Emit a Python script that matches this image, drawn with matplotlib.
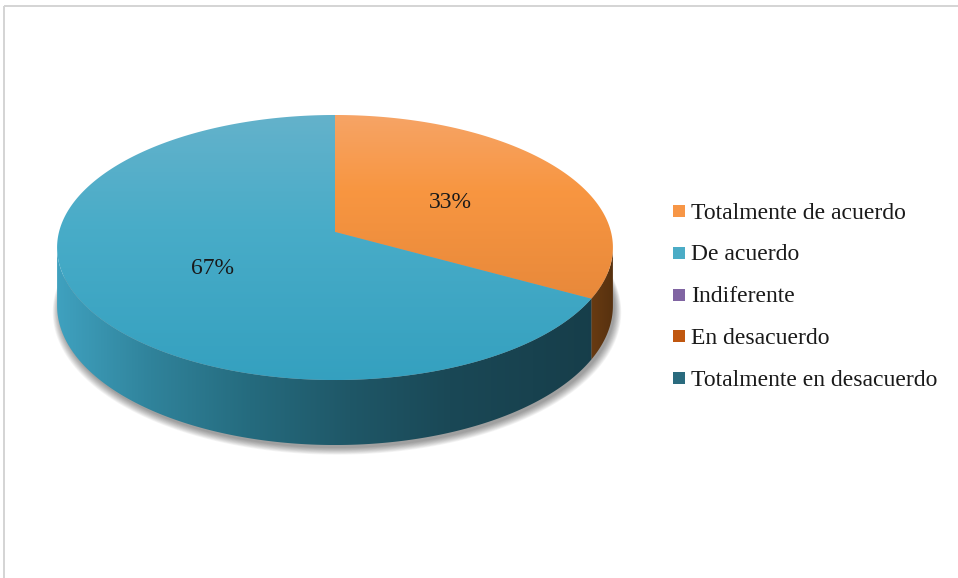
import numpy as np
import matplotlib
matplotlib.use("Agg")
import matplotlib.pyplot as plt
from matplotlib.patches import Polygon, Rectangle
from matplotlib.colors import to_rgb

# ---------------- data ----------------
categories = ["Totalmente de acuerdo", "De acuerdo", "Indiferente",
              "En desacuerdo", "Totalmente en desacuerdo"]
values = [33, 67, 0, 0, 0]
colors = ["#F79646", "#4BACC6", "#8064A2", "#C0570F", "#2A6B7E"]

# ---------------- layout / style ----------------
W, H = 958, 578
cx, cy = 335.0, 232.0        # pie vertex on screen (px)
A, B = 276.0, 130.7          # horizontal / vertical radius factors
K = 0.117                    # perspective strength
D = 57.4                     # depth of the pie
LABEL_R = 0.5
FS = 17
EM = FS * 100 / 72
CAP = 0.662 * EM

top_grad = {
    0: [(115, "#F6A466"), (190, "#F89641"), (305, "#E7883A")],
    1: [(115, "#64B2CB"), (230, "#48ACC8"), (385, "#34A0BF")],
}
side_grad = {
    0: [(585, "#6E3E13"), (615, "#55300F")],
    1: [(57, "#3FA1BF"), (150, "#30839B"), (250, "#256B7E"),
        (350, "#1F5767"), (450, "#1A4856"), (615, "#163C48")],
}

fig = plt.figure(figsize=(W / 100, H / 100), dpi=100)
ax = fig.add_axes([0, 0, 1, 1])
ax.set_xlim(0, W)
ax.set_ylim(H, 0)
ax.axis("off")


def proj(theta, r=1.0, z=0.0):
    u = r * np.sin(theta)
    v = r * np.cos(theta)
    w = 1 + K * v
    X = cx + A * u / w
    Y = cy + (-B * v - D * z) / w
    return X, Y


def gradient_image(stops, axis, lo, hi, n=400):
    pos = np.array([s[0] for s in stops], float)
    cols = np.array([to_rgb(s[1]) for s in stops])
    t = np.linspace(lo, hi, n)
    img = np.stack([np.interp(t, pos, cols[:, c]) for c in range(3)], axis=-1)
    if axis == "y":
        return img[:, None, :]
    return img[None, :, :]


def fill_gradient(poly_xy, stops, axis, zorder):
    xs, ys = poly_xy[:, 0], poly_xy[:, 1]
    x0, x1, y0, y1 = xs.min(), xs.max(), ys.min(), ys.max()
    patch = Polygon(poly_xy, closed=True, facecolor="none", edgecolor="none",
                    zorder=zorder)
    ax.add_patch(patch)
    if axis == "y":
        img = gradient_image(stops, "y", y0, y1)
    else:
        img = gradient_image(stops, "x", x0, x1)
    im = ax.imshow(img, extent=(x0, x1, y1, y0), origin="upper",
                   aspect="auto", interpolation="bilinear", zorder=zorder)
    im.set_clip_path(patch)
    return patch


total = float(sum(values))
fracs = [v / total for v in values]
starts = np.cumsum([0] + fracs[:-1]) * 2 * np.pi
ends = np.cumsum(fracs) * 2 * np.pi

# ----- soft shadow under the pie -----
tt = np.linspace(0, 2 * np.pi, 400)
for i in range(10):
    grow = 1.0 + 0.0025 * i
    bx, by = proj(tt, r=grow, z=-1.0)
    sh = np.column_stack([bx + 2, by + 3 + 0.3 * i])
    ax.add_patch(Polygon(sh, closed=True, facecolor="black",
                         edgecolor="none", alpha=0.045, zorder=1))

# ----- side walls (visible front part) -----
th_left = 2 * np.pi - np.arccos(-K)
th_right = np.arccos(-K)
for i, (s, e) in enumerate(zip(starts, ends)):
    if values[i] == 0:
        continue
    a0, a1 = max(s, th_right), min(e, th_left)
    if a1 <= a0:
        continue
    th = np.linspace(a0, a1, 200)
    tx, ty = proj(th, z=0.0)
    bx, by = proj(th[::-1], z=-1.0)
    poly = np.column_stack([np.r_[tx, bx], np.r_[ty, by]])
    fill_gradient(poly, side_grad[i], "x", zorder=2)

# ----- top faces -----
for i, (s, e) in enumerate(zip(starts, ends)):
    if values[i] == 0:
        continue
    th = np.linspace(s, e, 300)
    tx, ty = proj(th)
    poly = np.column_stack([np.r_[cx, tx], np.r_[cy, ty]])
    fill_gradient(poly, top_grad[i], "y", zorder=3)

# ----- percentage labels -----
for i, (s, e) in enumerate(zip(starts, ends)):
    if values[i] == 0:
        continue
    mid = (s + e) / 2
    lx, ly = proj(mid, r=LABEL_R)
    ax.text(lx, ly + CAP / 2, f"{fracs[i] * 100:.0f}%", ha="center",
            va="baseline", fontsize=FS, family="Liberation Serif",
            color="#1a1a1a", zorder=5)

# ----- legend -----
leg_x, leg_y0, leg_dy, sq = 673, 210.7, 41.9, 12
for i, (cat, col) in enumerate(zip(categories, colors)):
    yy = leg_y0 + i * leg_dy
    ax.add_patch(Rectangle((leg_x, yy - sq / 2), sq, sq, facecolor=col,
                           edgecolor="none", zorder=5))
    ax.text(leg_x + 18, yy + CAP / 2, cat, ha="left", va="baseline",
            fontsize=FS, family="Liberation Serif", color="#1a1a1a",
            zorder=5)

# ----- chart frame (partially visible) -----
ax.plot([4.5, 4.5], [6, H], color="#D4D4D4", lw=1.4, zorder=6,
        solid_capstyle="butt")
ax.plot([4.5, W], [6, 6], color="#D4D4D4", lw=1.4, zorder=6,
        solid_capstyle="butt")

ax.set_xlim(0, W)
ax.set_ylim(H, 0)
fig.savefig("out.png", dpi=100, facecolor="white")
